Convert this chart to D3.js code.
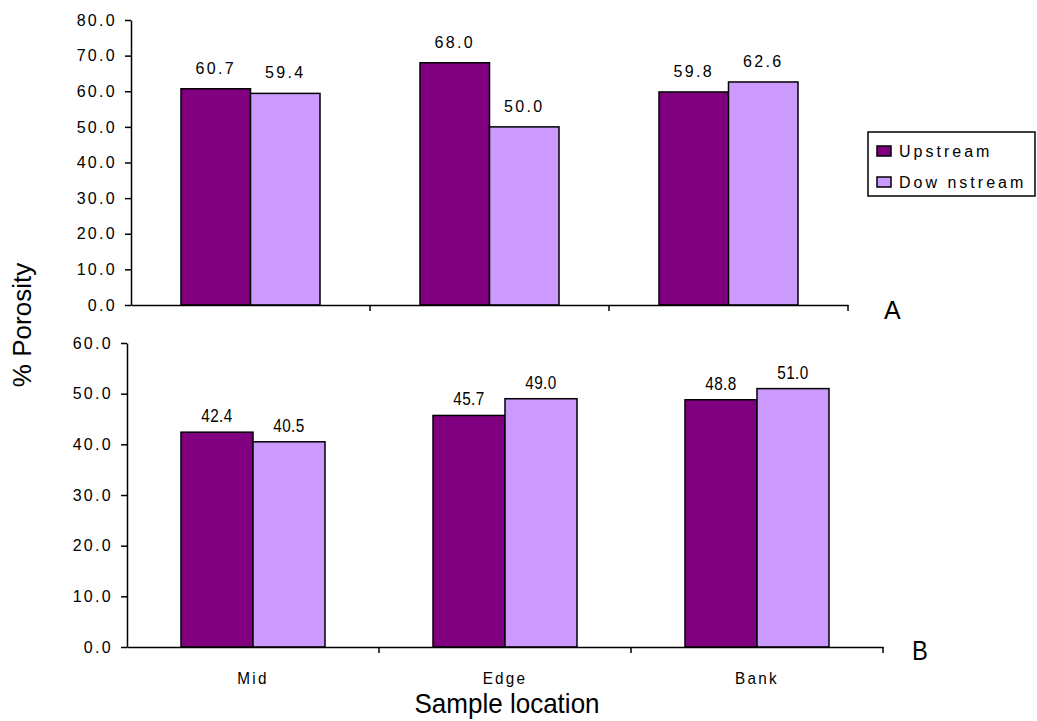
<!DOCTYPE html>
<html><head><meta charset="utf-8">
<script src="https://cdn.jsdelivr.net/npm/d3@7"></script>
<style>body{margin:0;background:#fff}svg{display:block}</style>
</head><body>
<svg id="c" width="1037" height="721"></svg>
<script>
const categories = ["Mid", "Edge", "Bank"];
const seriesNames = ["Upstream", "Downstream"];
const legendLabels = ["Upstream", "Dow nstream"];
const colors = ["#800080", "#CC99FF"];
const topUpstream = [60.7, 68.0, 59.8];
const topDownstream = [59.4, 50.0, 62.6];
const botUpstream = [42.4, 45.7, 48.8];
const botDownstream = [40.5, 49.0, 51.0];
const topTicks = [0, 10, 20, 30, 40, 50, 60, 70, 80];
const botTicks = [0, 10, 20, 30, 40, 50, 60];

const svg = d3.select("#c");
const FONT = "Arial, 'Liberation Sans', sans-serif";

function ntext(parent, x, y, txt, size, sx, ls, anchor) {
  return parent.append("text")
    .attr("transform", `translate(${x},${y}) scale(${sx},1)`)
    .attr("text-anchor", anchor || "middle")
    .style("font-family", FONT).style("font-size", size + "px")
    .style("letter-spacing", (ls || 0) + "px")
    .attr("fill", "#000").text(txt);
}

function panel(cfg) {
  const g = svg.append("g");
  const x0 = d3.scaleBand().domain(categories).range([cfg.x0, cfg.x1]);
  const groupW = cfg.barW * 2;
  const x1 = d3.scaleBand().domain(seriesNames).range([0, groupW]);
  const y = d3.scaleLinear().domain([0, cfg.max]).range([cfg.yb, cfg.yt]);
  const data = categories.map((c, i) => ({c, vals: [cfg.up[i], cfg.down[i]]}));

  data.forEach(d => {
    const gx = x0(d.c) + (x0.bandwidth() - groupW) / 2;
    d.vals.forEach((v, j) => {
      g.append("rect")
        .attr("x", gx + x1(seriesNames[j]))
        .attr("y", y(v))
        .attr("width", x1.bandwidth())
        .attr("height", y(0) - y(v))
        .attr("fill", colors[j])
        .attr("stroke", "#000").attr("stroke-width", 1.5);
      ntext(g, gx + x1(seriesNames[j]) + x1.bandwidth() / 2, y(v) - cfg.labGap,
        v.toFixed(1), cfg.valSize, cfg.valSX, cfg.valLS);
    });
  });

  // y axis
  const ya = g.append("g").attr("transform", `translate(${cfg.x0},0)`)
    .call(d3.axisLeft(y).tickValues(cfg.ticks).tickFormat(d => d.toFixed(1)).tickSize(6).tickSizeOuter(0).tickPadding(8));
  ya.select(".domain").attr("stroke", "#000").attr("stroke-width", 1.5);
  ya.selectAll(".tick line").attr("stroke", "#000").attr("stroke-width", 1.5);
  ya.selectAll(".tick text").style("font-family", FONT).style("font-size", "16px")
    .style("letter-spacing", "2.3px").attr("fill", "#000");

  // x axis
  const xa = g.append("g").attr("transform", `translate(0,${cfg.yb})`)
    .call(d3.axisBottom(x0).tickSize(0).tickFormat(() => ""));
  xa.select(".domain").attr("stroke", "#000").attr("stroke-width", 1.5);
  const bounds = categories.map(c => x0(c)).concat([cfg.x1]).slice(1);
  xa.selectAll("line.bt").data(bounds).enter().append("line")
    .attr("x1", d => d).attr("x2", d => d).attr("y1", 0).attr("y2", 6)
    .attr("stroke", "#000").attr("stroke-width", 1.5);

  if (cfg.showCats) {
    categories.forEach(c => ntext(g, x0(c) + x0.bandwidth() / 2, cfg.yb + 37, c, 17, 0.9, 2.5));
  }
  ntext(g, cfg.letterX, cfg.letterY, cfg.letter, cfg.letterSize, cfg.letterSX, 0, "start");
  return g;
}

panel({x0: 131, x1: 848, yt: 20, yb: 305, max: 80, barW: 69.5, up: topUpstream, down: topDownstream,
  ticks: topTicks, labGap: 15, valSize: 16, valSX: 1, valLS: 2.3, showCats: false,
  letter: "A", letterX: 884, letterY: 319, letterSize: 25, letterSX: 1});
panel({x0: 127, x1: 883, yt: 343, yb: 647, max: 60, barW: 72, up: botUpstream, down: botDownstream,
  ticks: botTicks, labGap: 10, valSize: 18, valSX: 0.85, valLS: 0.5, showCats: true,
  letter: "B", letterX: 912, letterY: 660, letterSize: 28, letterSX: 0.85});

// axis titles
svg.append("text").attr("transform", "translate(31,325) rotate(-90)").attr("text-anchor", "middle")
  .style("font-family", FONT).style("font-size", "26px").attr("fill", "#000").text("% Porosity");
ntext(svg, 507, 713, "Sample location", 28, 0.93, 0);

// legend
const lg = svg.append("g");
lg.append("rect").attr("x", 868).attr("y", 132).attr("width", 167).attr("height", 64)
  .attr("fill", "#fff").attr("stroke", "#000").attr("stroke-width", 1.5);
legendLabels.forEach((t, i) => {
  const cy = 151 + i * 31;
  lg.append("rect").attr("x", 877).attr("y", cy - 5).attr("width", 14).attr("height", 10)
    .attr("fill", colors[i]).attr("stroke", "#000").attr("stroke-width", 1.5);
  lg.append("text").attr("x", 899).attr("y", cy + 6)
    .style("font-family", FONT).style("font-size", "16px").style("letter-spacing", "3px")
    .attr("fill", "#000").text(t);
});
</script>
</body></html>
